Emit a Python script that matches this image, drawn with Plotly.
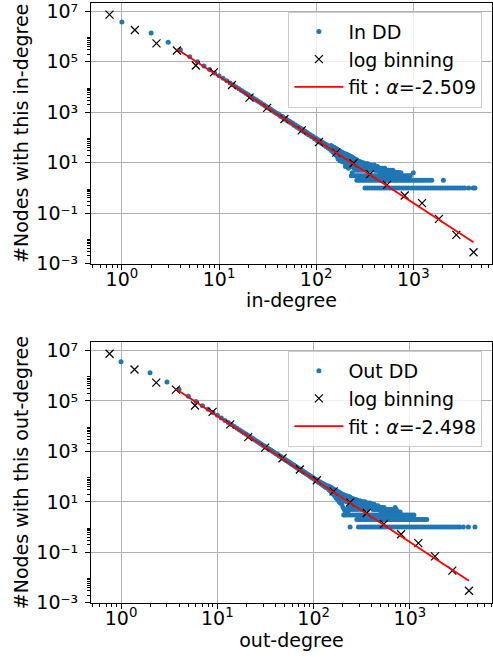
import plotly.graph_objects as go

# ---------------- in-degree distribution ----------------
in_main_deg = [1,2,3,4,5,6,7,8,9,10,11,12,13,14,15,16,17,18,19,20,21,22,23,24,25,26,27,28,29,30,
               31,32,33,34,35,36,37,38,39,40,41,42,43,44,45,46,47,48,49,50,51,52,53,54,55,56,57,58,59,60,
               61,62,63,64,65,66,67,68,69,70,71,72,73,74,75,76,77,78,79,80,81,83,84,86,87,89,90,92,93,95,
               96,98,99,101,102,104,105,107,108,110,111,113,114,116,117,119,120,122,123,125,126,128,129,131,132,134,135,137,138,140]
in_main_cnt = [3.8e6,1.38e6,5.9e5,3.0e5,1.6e5,1.0e5,6.8e4,4.9e4,3.6e4,2.8e4,2.2e4,1.75e4,1.45e4,1.2e4,1.0e4,8500,7300,6400,5500,4900,
               4300,3850,3400,3100,2780,2520,2300,2080,1920,1760,1620,1500,1390,1300,1200,1120,1040,975,910,860,
               850,760,690,680,670,600,540,545,540,490,445,445,440,405,370,370,370,340,305,312,
               310,288,260,265,265,245,225,226,230,210,192,196,200,183,168,170,175,160,147,150,154,138,126,126,128,116,106,106,110,98,
               89,91,94,84,76,78,81,73,66,68,71,63,57,59,63,56,50,52,56,49,44,46,50,43,39,41,45,39,35,37]
in_blob_deg = [142,144,146,148,150,152,154,156,158,160,162,164,166,168,170,172,174,176,178,180,183,186,189,192,195,198,200,201,204,207,
               210,213,215,216,219,222,225,228,231,234,235,237,240,243,246,249,252,255,258,261,264,268,272,276,280,285,290,295,300,305,
               310,316,322,328,334,340,346,353,360,367,374,381,388,396,404,412,420,429,438,447,456,466,476,486,496,507,518,529,540,552,
               564,577,590,603,617,631,646,661,677,693,710,727,745,1000,
               150,160,170,180,190,200,210,220,230,240,250,260,270,280,290,300,312,325,338,352,366,380,395,410,425,440,455,470,485,500,515,530]
in_blob_cnt = [48,30,44,28,42,25,40,22,37,20,35,18,33,14,31,17,29,12,28,15,26,11,25,13,23,10,7,22,11,21,
               9,20,6,10,19,8,18,9,17,7,4,16,8,15,6,14,7,13,5,13,6,12,5,11,6,11,5,10,6,10,
               5,9,6,9,5,9,6,8,5,8,6,7,6,8,5,7,6,7,5,6,5,6,5,6,5,6,4,5,4,5,
               4,5,4,4,5,4,4,4,4,4,4,4,4,4,
               33,27,23,20,17,15,13,12,11,10,9,8,8,7,7,7,7,7,7,6,6,6,6,5,5,5,4,4,4,4,4,4]
in_c3_deg = [230,241,252,264,276,289,302,316,331,347,363,380,398,416,436,456,478,500,524,548,574,601,629,658,689,722,756,791,828,867,908,930]
in_c2_deg = [262,274,287,301,315,330,345,361,378,396,415,434,455,476,499,522,547,573,600,628,657,688,721,755,790,828,866,907,950,995,
             1042,1091,1142,1196,1252,1311,1390,1470,1550,2040]
in_c1_deg = [318,337,357,378,401,424,450,476,505,534,566,600,635,673,713,755,800,847,897,951,1007,1067,1130,1197,1268,1343,1423,1507,1597,1691,
             1792,1898,2011,2130,2256,2390,2532,2682,2841,3009,3188,3377,3720,4140,4310]

in_bin_x = [0.746,1.36,2.27,3.68,5.77,8.84,13.6,20.6,31.3,47.1,71.1,107,161,242,359,537,816,1230,1837,2773,4170]
in_bin_y = [7.4e6,1.82e6,5.4e5,2.8e5,7.1e4,3.8e4,1.2e4,3.8e3,1.48e3,537,191,66,25,9.5,3.5,1.32,0.5,0.25,0.059,0.0138,0.0028]
in_fit_x = [3.68, 4170]
in_fit_y = [3.24e5, 7.0e-3]
in_alpha = -2.509

# ---------------- out-degree distribution ----------------
out_main_deg = in_main_deg
out_main_cnt = [3.6e6,1.3e6,5.7e5,2.9e5,1.55e5,9.6e4,6.5e4,4.7e4,3.45e4,2.68e4,2.12e4,1.69e4,1.4e4,1.16e4,9700,8250,7100,6200,5350,4760,
                4190,3750,3320,3030,2720,2470,2250,2040,1880,1730,1590,1475,1370,1280,1180,1100,1025,960,897,848,
                790,770,715,660,640,610,560,530,525,485,460,432,430,398,385,360,355,335,320,300,
                298,284,268,258,255,238,230,221,220,206,199,190,192,178,176,166,167,157,154,146,149,132,132,122,124,113,110,102,107,95,
                93,87,91,80,80,75,79,70,69,64,69,60,60,56,61,53,53,49,55,46,47,43,50,40,42,38,44,36,38,35]
out_blob_deg = [142,144,146,148,150,152,154,156,158,160,163,166,169,172,175,178,181,184,187,190,193,196,199,202,205,208,211,214,217,220,
                223,226,229,232,235,238,241,244,247,250,254,258,262,266,270,275,280,285,290,296,302,308,314,320,327,334,341,348,355,363,
                371,379,387,396,405,414,424,434,444,455,466,477,489,501,513,526,539,552,566,580,595,610,626,642,659,676,701,720,740,760,790,
                150,160,170,180,190,200,210,220,230,240,250,260,270,280,290,300,312,325,338,352,366,380,395,410,425,440,455,470,485,500,515,530]
out_blob_cnt = [42,30,40,28,38,25,36,22,34,20,31,17,29,14,27,12,25,10,23,9,21,8,20,6,19,5,18,4,17,5,
                17,4,16,6,16,5,15,7,14,5,13,6,13,5,12,6,12,5,11,6,11,5,10,6,10,5,10,6,9,5,
                9,6,9,7,8,5,8,5,7,5,7,5,6,4,6,4,6,4,5,4,5,5,4,5,4,4,6,5,4,4,4,
                30,26,21,18,15,13,11,10,10,9,9,8,8,8,7,7,7,7,7,7,6,6,6,6,6,5,6,5,5,5,5,5]
out_c3_deg = [205,214,226,240,255,270,286,300,314,329,345,361,378,396,415,434,455,476,499,522,547,573,600,628,657,688,721,755,790,828,
              866,907,950,1000,1050,1100]
out_c2_deg = [281,294,308,322,337,353,369,386,404,423,443,463,485,507,531,556,582,609,637,667,698,731,765,800,838,877,918,961,1006,1053,
              1102,1153,1207,1264,1323,1385,1440,1494]
out_c1_deg = [239,292,309,328,347,368,389,412,437,463,490,519,550,583,617,654,693,734,777,823,872,924,979,1037,1098,1163,1232,1305,1383,1465,
              1552,1644,1741,1845,1954,2070,2193,2323,2461,2607,2762,2925,3099,3283,3580,4040,4730]

out_bin_x = [0.76,1.38,2.32,3.72,5.86,8.92,13.6,20.9,31.4,47.5,71.9,108,161,239,356,537,809,1222,1820,2754,4100]
out_bin_y = [7.4e6,1.76e6,5.3e5,2.8e5,6.6e4,3.7e4,1.17e4,3.7e3,1.41e3,535,191,72,26,9.5,3.6,1.32,0.52,0.23,0.069,0.0187,0.003]
out_fit_x = [3.72, 4100]
out_fit_y = [2.98e5, 7.5e-3]
out_alpha = -2.498

x_tickvals = [1, 10, 100, 1000]
x_ticktext = ["10<sup>0</sup>", "10<sup>1</sup>", "10<sup>2</sup>", "10<sup>3</sup>"]
y_tickvals = [1e-3, 1e-1, 1e1, 1e3, 1e5, 1e7]
y_ticktext = ["10\u207b\u00b3", "10\u207b\u00b9", "10\u00b9", "10\u00b3", "10\u2075", "10\u2077"]

BLUE = "#1f77b4"
FONT = "DejaVu Sans"
FS = 19

fig = go.Figure()


def add_panel(main_deg, main_cnt, blob_deg, blob_cnt, c3, c2, c1, bx, by, fx, fy, alpha, name, xa, ya, leg):
    xs = list(main_deg) + list(blob_deg) + list(c3) + list(c2) + list(c1)
    ys = list(main_cnt) + list(blob_cnt) + [3] * len(c3) + [2] * len(c2) + [1] * len(c1)
    fig.add_trace(go.Scatter(x=xs, y=ys, mode="markers", name=name, xaxis=xa, yaxis=ya, legend=leg,
                             marker=dict(color=BLUE, size=5, line=dict(width=0))))
    fig.add_trace(go.Scatter(x=bx, y=by, mode="markers", name="log binning", xaxis=xa, yaxis=ya, legend=leg,
                             marker=dict(symbol="x-thin", size=8, color="black", line=dict(color="black", width=1.2))))
    fig.add_trace(go.Scatter(x=fx, y=fy, mode="lines", name="fit : <i>\u03b1</i>=%.3f" % alpha, xaxis=xa, yaxis=ya,
                             legend=leg, line=dict(color="red", width=1.8)))


add_panel(in_main_deg, in_main_cnt, in_blob_deg, in_blob_cnt, in_c3_deg, in_c2_deg, in_c1_deg,
          in_bin_x, in_bin_y, in_fit_x, in_fit_y, in_alpha, "In DD", "x", "y", "legend")
add_panel(out_main_deg, out_main_cnt, out_blob_deg, out_blob_cnt, out_c3_deg, out_c2_deg, out_c1_deg,
          out_bin_x, out_bin_y, out_fit_x, out_fit_y, out_alpha, "Out DD", "x2", "y2", "legend2")

x_minor = [m * 10 ** e for e in range(-1, 4) for m in range(2, 10)]
y_minor = [m * 10 ** e for e in (-3, -1, 1, 3, 5) for m in range(2, 10)]

axis_common = dict(type="log", showline=True, linecolor="black", linewidth=1, mirror=True,
                   ticks="outside", ticklen=5, tickwidth=1, tickcolor="black",
                   showgrid=True, gridcolor="#b0b0b0", gridwidth=1, zeroline=False,
                   tickfont=dict(family=FONT, size=FS, color="black"),
                   title_font=dict(family=FONT, size=FS, color="black"),
                   automargin=False, ticklabeloverflow="allow")
xaxis_common = dict(axis_common, ticklabelstandoff=-7)
yaxis_common = dict(axis_common, ticklabelstandoff=3)
minor_x = dict(tickmode="array", tickvals=x_minor, ticks="outside", ticklen=3, tickcolor="black", showgrid=False)
minor_y = dict(tickmode="array", tickvals=y_minor, ticks="outside", ticklen=3, tickcolor="black", showgrid=False)

legend_common = dict(xanchor="right", yanchor="top", bgcolor="rgba(255,255,255,0.8)",
                     bordercolor="#cccccc", borderwidth=1, font=dict(family=FONT, size=FS, color="black"),
                     itemwidth=49)

fig.update_layout(
    width=493, height=657,
    margin=dict(l=91, r=1, t=3, b=54, autoexpand=False),
    paper_bgcolor="white", plot_bgcolor="white",
    font=dict(family=FONT, size=FS, color="black"),
    showlegend=True,
    xaxis=dict(xaxis_common, domain=[0, 1], anchor="y", range=[-0.318, 3.81],
               tickmode="array", tickvals=x_tickvals, ticktext=x_ticktext, minor=minor_x,
               title=dict(text="in-degree", standoff=4)),
    yaxis=dict(yaxis_common, domain=[0.5655, 1], anchor="x", range=[-3.005, 7.33],
               tickmode="array", tickvals=y_tickvals, ticktext=y_ticktext, minor=minor_y,
               title=dict(text="#Nodes with this in-degree", standoff=2)),
    xaxis2=dict(xaxis_common, domain=[0, 1], anchor="y2", range=[-0.312, 3.852],
                tickmode="array", tickvals=x_tickvals, ticktext=x_ticktext, minor=minor_x,
                title=dict(text="out-degree", standoff=4)),
    yaxis2=dict(yaxis_common, domain=[0, 0.4343], anchor="x2", range=[-3.01, 7.32],
                tickmode="array", tickvals=y_tickvals, ticktext=y_ticktext, minor=minor_y,
                title=dict(text="#Nodes with this out-degree", standoff=2)),
    legend=dict(legend_common, x=0.976, y=0.9857),
    legend2=dict(legend_common, x=0.976, y=0.4202),
)

fig.write_html("out.html", config={"displayModeBar": False},
               post_script="document.body.style.margin='0';document.body.style.padding='0';")
